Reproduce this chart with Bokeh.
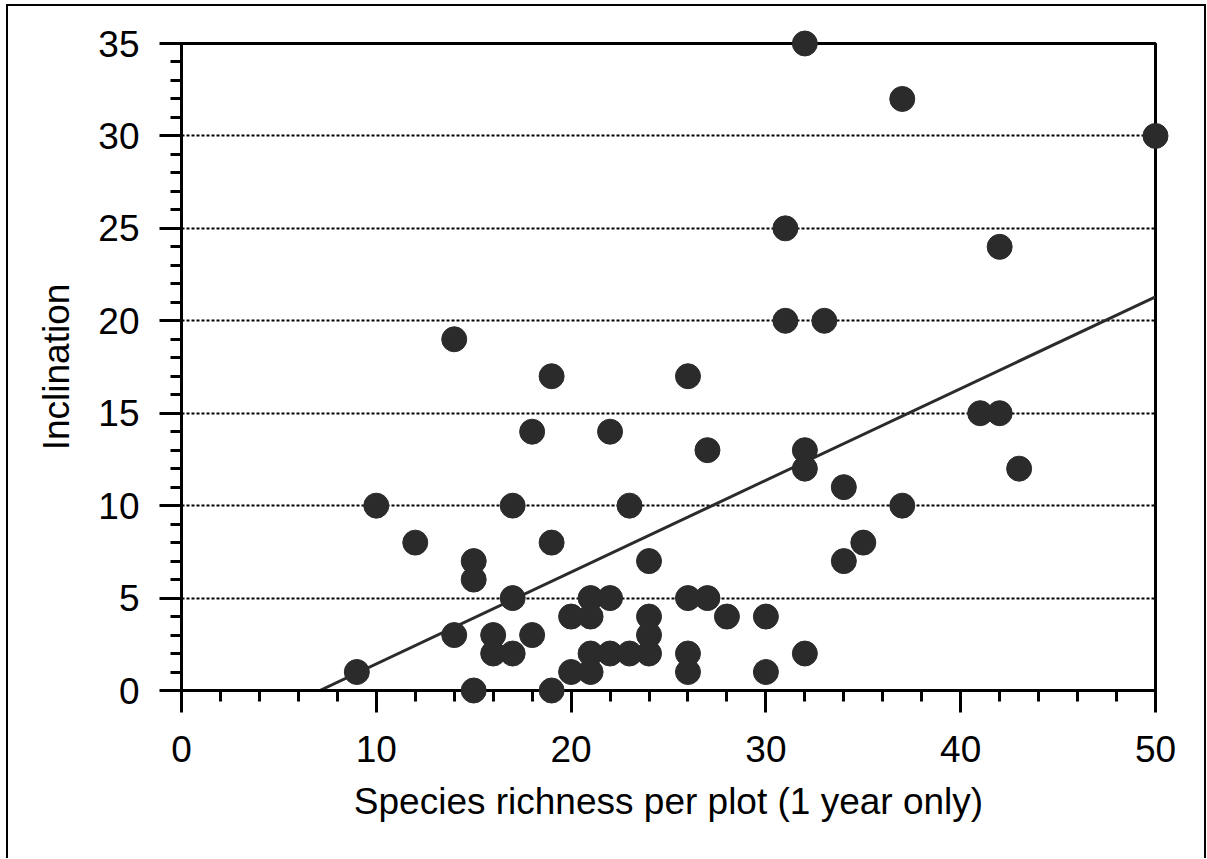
from bokeh.plotting import figure
from bokeh.models import ColumnDataSource, Range1d, SingleIntervalTicker
from bokeh.embed import file_html
from bokeh.resources import INLINE

# Data
richness = [9, 10, 12, 14, 14, 15, 15, 15, 16, 16, 17, 17, 17, 18, 18, 19, 19, 19,
            20, 20, 21, 21, 21, 21, 22, 22, 22, 23, 23, 24, 24, 24, 24,
            26, 26, 26, 26, 27, 27, 28, 30, 30, 31, 31, 32, 32, 32, 32, 33,
            34, 34, 35, 37, 37, 41, 42, 42, 43, 50]
inclination = [1, 10, 8, 19, 3, 7, 6, 0, 3, 2, 10, 5, 2, 14, 3, 17, 8, 0,
               4, 1, 5, 4, 2, 1, 14, 5, 2, 10, 2, 7, 4, 3, 2,
               17, 5, 2, 1, 13, 5, 4, 4, 1, 25, 20, 35, 13, 12, 2, 20,
               11, 7, 8, 32, 10, 15, 15, 24, 12, 30]
fit_x = [7.1, 50]
fit_y = [0, 21.3]

FONT = "Liberation Sans"

p = figure(width=1200, height=854, output_backend="svg", toolbar_location=None,
           x_range=Range1d(0, 50), y_range=Range1d(0, 35),
           min_border_left=173, min_border_right=53, min_border_top=37, min_border_bottom=170)
p.styles = {"margin-left": "6px", "margin-top": "4px",
            "border-top": "2px solid black", "border-left": "2px solid black",
            "border-right": "2px solid black"}

p.outline_line_color = "black"
p.outline_line_width = 3
p.background_fill_color = "white"
p.border_fill_color = "white"

p.xgrid.visible = False
p.ygrid.grid_line_color = "black"
p.ygrid.grid_line_dash = "3 2"
p.ygrid.grid_line_width = 2

p.xaxis.ticker = SingleIntervalTicker(interval=10, num_minor_ticks=5)
p.yaxis.ticker = SingleIntervalTicker(interval=5, num_minor_ticks=5)
p.ygrid.ticker = p.yaxis.ticker

for ax in (p.xaxis, p.yaxis):
    ax.axis_line_width = 3
    ax.axis_line_color = "black"
    ax.major_tick_line_width = 3
    ax.minor_tick_line_width = 3
    ax.major_tick_in = 0
    ax.minor_tick_in = 0
    ax.major_tick_out = 22
    ax.minor_tick_out = 11
    ax.major_label_text_font = FONT
    ax.major_label_text_font_size = "37px"
    ax.major_label_text_color = "black"
    ax.axis_label_text_font = FONT
    ax.axis_label_text_font_size = "37px"
    ax.axis_label_text_font_style = "normal"
    ax.axis_label_text_color = "black"

p.xaxis.axis_label = "Species richness per plot (1 year only)"
p.yaxis.axis_label = "Inclination"
p.xaxis.major_label_standoff = 23
p.xaxis.axis_label_standoff = 16
p.yaxis.major_label_standoff = 20
p.yaxis.axis_label_standoff = 18

p.line(fit_x, fit_y, line_color="#2b2b2b", line_width=3)

src = ColumnDataSource(dict(x=richness, y=inclination))
r = p.scatter("x", "y", source=src, size=25, marker="circle",
              fill_color="#2b2b2b", line_color="#2b2b2b")
r.level = "overlay"

open("out.html", "w").write(file_html(p, INLINE))
